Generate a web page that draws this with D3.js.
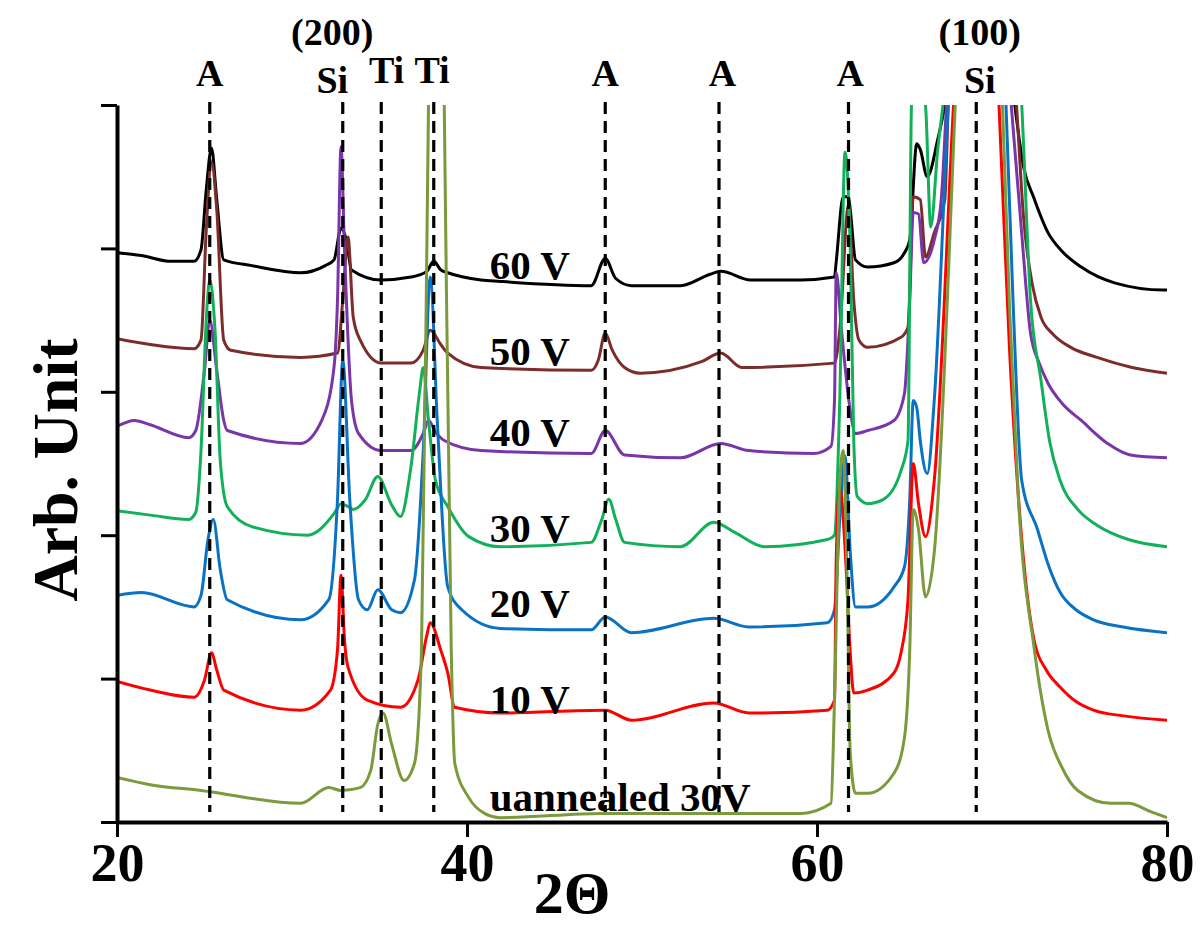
<!DOCTYPE html>
<html>
<head>
<meta charset="utf-8">
<script src="https://cdn.jsdelivr.net/npm/d3@7"></script>
<style>
  body { margin: 0; background: #fff; }
  text { font-family: "Liberation Serif", "Times New Roman", serif; font-weight: bold; fill: #000; }
</style>
</head>
<body>
<svg id="chart" width="1200" height="931"></svg>
<script>
// XRD patterns, [2theta, intensity (arb., offset per sample)]
const s60 = [[20.0,3.97],[21.4,3.95],[23.1,3.91],[24.4,3.91],[24.8,3.99],[25.1,4.41],[25.4,4.70],[25.7,4.34],[26.1,3.92],[27.7,3.88],[30.5,3.83],[31.9,3.88],[32.4,3.92],[32.8,4.14],[33.1,4.06],[33.4,3.85],[35.1,3.78],[36.8,3.80],[37.7,3.84],[38.1,3.91],[38.5,3.85],[38.9,3.83],[40.8,3.78],[41.9,3.77],[47.1,3.74],[47.9,3.93],[48.5,3.79],[49.4,3.74],[52.2,3.74],[53.9,3.82],[54.5,3.84],[56.2,3.78],[59.1,3.78],[61.0,3.80],[61.1,3.91],[61.5,4.36],[61.8,4.36],[61.9,4.27],[62.2,3.92],[62.9,3.87],[64.4,3.90],[65.0,3.97],[65.3,4.06],[65.7,4.73],[65.9,4.69],[66.3,4.50],[66.9,4.76],[67.3,5.00],[69.2,8.0],[71.3,5.00],[71.8,4.57],[72.4,4.35],[73.2,4.11],[74.0,3.98],[75.1,3.87],[77.0,3.76],[79.8,3.71],[80,3.71]];
const s50 = [[20.0,3.37],[21.9,3.33],[24.4,3.30],[24.8,3.36],[25.1,4.13],[25.4,4.60],[25.7,4.27],[26.1,3.36],[26.5,3.29],[30.5,3.24],[32.6,3.27],[32.9,3.64],[33.2,4.08],[33.5,3.52],[33.9,3.36],[35.1,3.20],[36.8,3.20],[37.5,3.29],[37.9,3.43],[38.5,3.33],[38.9,3.27],[40.8,3.17],[47.1,3.15],[47.5,3.22],[47.9,3.41],[48.3,3.29],[49.0,3.17],[49.9,3.13],[53.4,3.21],[54.5,3.27],[55.7,3.17],[61.0,3.20],[61.3,3.43],[61.8,4.30],[62.1,3.64],[62.4,3.36],[62.9,3.31],[64.8,3.38],[65.2,3.45],[65.5,4.36],[65.9,4.34],[66.2,3.94],[66.7,4.11],[67.3,4.34],[67.5,5.00],[69.2,8.0],[71.4,5.00],[71.8,4.22],[72.3,3.75],[72.8,3.52],[73.5,3.40],[74.5,3.31],[76.0,3.24],[78.0,3.17],[80,3.13]];
const s40 = [[20.0,2.76],[21.0,2.80],[21.9,2.77],[24.1,2.68],[24.5,2.73],[25.0,3.15],[25.3,3.50],[25.7,3.15],[26.1,2.80],[26.3,2.73],[30.5,2.64],[31.7,2.80],[32.4,3.17],[32.6,3.64],[32.8,4.71],[33.0,3.99],[33.4,2.94],[33.8,2.71],[35.1,2.59],[36.8,2.59],[37.5,2.71],[37.8,2.80],[38.2,2.72],[38.7,2.66],[40.8,2.59],[47.1,2.57],[47.9,2.73],[49.0,2.56],[52.2,2.54],[54.5,2.64],[56.1,2.59],[59.8,2.57],[60.8,2.62],[61.0,2.94],[61.1,3.83],[61.4,3.43],[61.9,2.87],[62.2,2.71],[62.9,2.73],[64.4,2.80],[65.0,2.99],[65.3,3.64],[65.5,4.25],[65.8,4.24],[66.1,3.90],[66.7,4.06],[67.1,4.34],[67.4,5.00],[69.2,8.0],[71.1,5.00],[71.7,4.10],[72.2,3.41],[72.7,3.20],[73.2,3.06],[74.0,2.92],[75.1,2.80],[76.6,2.64],[77.9,2.56],[80,2.54]];
const s30 = [[20.0,2.17],[21.9,2.14],[24.1,2.11],[24.5,2.16],[24.8,2.59],[25.1,3.50],[25.3,3.78],[25.6,3.43],[25.9,2.52],[26.3,2.20],[27.7,2.06],[30.9,2.00],[32.4,2.15],[32.8,2.22],[33.2,2.20],[33.5,2.18],[34.2,2.25],[34.9,2.41],[35.7,2.21],[36.2,2.13],[36.8,2.48],[37.3,3.01],[37.5,3.17],[37.8,2.80],[38.2,2.38],[38.9,2.20],[40.1,1.99],[41.9,1.92],[47.1,1.95],[47.7,2.11],[48.1,2.25],[48.5,2.11],[49.0,1.95],[52.2,1.92],[54.1,2.09],[55.3,2.02],[57.0,1.92],[60.6,1.97],[61.0,2.00],[61.3,2.94],[61.6,4.67],[61.9,3.99],[62.1,2.66],[62.3,2.27],[62.9,2.22],[63.8,2.25],[64.8,2.45],[65.2,2.66],[65.4,5.00],[65.7,5.30],[66.2,5.00],[66.5,4.15],[66.9,4.69],[67.2,5.00],[69.2,8.0],[71.7,5.00],[72.2,3.64],[72.8,3.08],[73.3,2.65],[73.9,2.38],[74.9,2.18],[76.0,2.07],[77.8,1.97],[80,1.92]];
const s20 = [[20.0,1.58],[21.4,1.60],[24.4,1.50],[24.8,1.58],[25.2,1.97],[25.5,2.11],[25.9,1.76],[26.3,1.55],[30.5,1.41],[32.1,1.55],[32.6,2.25],[32.9,3.22],[33.3,2.25],[33.8,1.55],[34.3,1.48],[34.9,1.62],[35.7,1.48],[36.2,1.46],[37.0,1.69],[37.5,2.59],[37.9,3.80],[38.3,2.80],[38.9,1.64],[39.7,1.48],[41.9,1.35],[47.1,1.34],[47.9,1.43],[49.4,1.32],[54.1,1.42],[56.1,1.36],[60.6,1.39],[61.0,1.48],[61.3,2.11],[61.6,2.55],[61.9,1.88],[62.2,1.50],[62.9,1.50],[64.4,1.64],[65.0,1.78],[65.3,2.25],[65.5,2.94],[65.7,2.89],[65.9,2.66],[66.3,2.43],[66.7,2.94],[67.5,5.00],[69.2,8.0],[70.8,5.00],[71.2,3.64],[71.7,2.38],[72.6,2.04],[73.2,1.80],[73.9,1.60],[74.8,1.48],[75.8,1.41],[77.5,1.36],[80,1.32]];
const s10 = [[20.0,0.98],[21.9,0.92],[24.4,0.87],[25.0,0.99],[25.4,1.18],[25.7,1.06],[26.1,0.92],[30.5,0.78],[32.2,0.92],[32.6,1.20],[32.8,1.72],[33.0,1.27],[33.2,1.08],[34.3,0.85],[36.2,0.80],[37.2,0.99],[37.7,1.30],[37.9,1.39],[38.5,1.20],[38.9,1.04],[39.3,0.80],[41.9,0.76],[47.9,0.78],[49.4,0.71],[54.1,0.83],[56.1,0.76],[60.6,0.78],[61.0,0.85],[61.1,1.83],[61.3,2.34],[61.6,1.92],[61.9,1.18],[62.1,0.90],[62.9,0.92],[64.4,1.04],[64.8,1.18],[65.2,1.55],[65.5,2.50],[65.8,2.22],[66.2,1.99],[66.7,2.38],[67.8,5.00],[69.2,8.0],[70.4,5.00],[71.0,3.30],[71.7,1.97],[72.4,1.27],[73.1,1.06],[73.9,0.94],[74.8,0.84],[75.8,0.78],[77.5,0.74],[80,0.71]];
const sUn = [[20.0,0.31],[21.9,0.26],[24.8,0.22],[30.5,0.13],[32.1,0.24],[32.8,0.22],[33.9,0.24],[34.5,0.36],[34.9,0.68],[35.2,0.76],[35.7,0.54],[36.4,0.29],[37.0,0.41],[37.4,1.20],[37.8,5.00],[38.3,9.0],[38.7,5.00],[39.1,1.20],[39.3,0.41],[40.1,0.17],[41.0,0.06],[41.9,0.03],[47.7,0.06],[59.1,0.06],[60.8,0.13],[61.0,0.85],[61.3,2.38],[61.5,2.59],[61.7,1.83],[61.9,0.48],[62.2,0.20],[62.9,0.20],[64.4,0.34],[65.0,0.59],[65.3,1.20],[65.5,2.18],[65.8,2.04],[66.2,1.57],[66.7,1.88],[67.9,5.00],[69.2,9.0],[70.6,5.00],[71.0,3.60],[71.5,2.27],[72.4,1.22],[73.2,0.64],[74.0,0.38],[74.9,0.22],[76.8,0.13],[77.8,0.13],[79.1,0.07],[80,0.03]];

const allSeries = [s60, s50, s40, s30, s20, s10, sUn];
const seriesNames = ["60 V", "50 V", "40 V", "30 V", "20 V", "10 V", "uannealed 30V"];
const seriesColors = ["#000000", "#7b2d2b", "#7a35a8", "#13b05a", "#0a72c4", "#ff0000", "#7a9a3c"];
const labelY = [3.79, 3.19, 2.62, 1.95, 1.43, 0.76, 0.08];   // where each sample name sits

// reflections: dashed line positions and their labels
const peakPos = [25.3, 32.9, 35.1, 38.1, 47.9, 54.4, 61.8, 69.1];
const peakText = ["A", "Si", "Ti", "Ti", "A", "A", "A", "Si"];
const peakTextAt = [25.3, 32.3, 35.4, 38.0, 47.9, 54.6, 61.9, 69.3];
const hklText = ["(200)", "(100)"];
const hklAt = [32.3, 69.3];

const xTicks = [20, 40, 60, 80];
const yTicks = [0, 1, 2, 3, 4, 5];

const svg = d3.select("#chart");
const m = {left: 117, right: 1167, top: 105, bottom: 822};

const x = d3.scaleLinear().domain([20, 80]).range([m.left, m.right]);
const y = d3.scaleLinear().domain([0, 5]).range([m.bottom, m.top]);

svg.append("defs").append("clipPath").attr("id", "plot")
    .append("rect")
    .attr("x", m.left).attr("y", m.top)
    .attr("width", m.right - m.left).attr("height", m.bottom - m.top);

const line = d3.line()
    .x(d => x(d[0]))
    .y(d => y(d[1]))
    .curve(d3.curveMonotoneX);

svg.append("g")
    .attr("clip-path", "url(#plot)")
    .selectAll("path")
    .data(allSeries)
    .enter()
    .append("path")
        .attr("d", line)
        .attr("fill", "none")
        .attr("stroke", (d, i) => seriesColors[i])
        .attr("stroke-width", 3)
        .attr("stroke-linejoin", "round");

// dashed reference lines
svg.append("g")
    .selectAll("line")
    .data(peakPos)
    .enter()
    .append("line")
        .attr("x1", d => x(d)).attr("x2", d => x(d))
        .attr("y1", m.top - 3).attr("y2", m.bottom - 10)
        .attr("stroke", "#000")
        .attr("stroke-width", 3.2)
        .attr("stroke-dasharray", "12,7");

// axes
const yAxis = svg.append("g")
    .attr("transform", `translate(${m.left},0)`)
    .call(d3.axisLeft(y).tickValues(yTicks).tickSize(16).tickSizeOuter(0).tickFormat(""));
yAxis.select(".domain").attr("stroke-width", 4);
yAxis.selectAll(".tick line").attr("stroke-width", 3);

const xAxis = svg.append("g")
    .attr("transform", `translate(0,${m.bottom})`)
    .call(d3.axisBottom(x).tickValues(xTicks).tickSize(15).tickSizeOuter(0).tickPadding(6));
xAxis.select(".domain").attr("stroke-width", 4);
xAxis.selectAll(".tick line").attr("stroke-width", 3);
xAxis.selectAll("text").attr("font-size", 54).attr("fill", "#000");

svg.append("text")
    .attr("x", 572).attr("y", 913)
    .attr("text-anchor", "middle")
    .attr("font-size", 60)
    .text("2Θ");

svg.append("text")
    .attr("transform", "translate(77,470) rotate(-90)")
    .attr("text-anchor", "middle")
    .attr("font-size", 64)
    .text("Arb. Unit");

// sample names
svg.selectAll(".sname")
    .data(seriesNames)
    .enter()
    .append("text")
        .attr("class", "sname")
        .attr("x", x(41.3))
        .attr("y", (d, i) => y(labelY[i]))
        .attr("font-size", 41)
        .text(d => d);

// phase labels over the dashed lines
svg.selectAll(".plab")
    .data(peakText)
    .enter()
    .append("text")
        .attr("class", "plab")
        .attr("x", (d, i) => x(peakTextAt[i]))
        .attr("y", d => d == "A" ? 86 : (d == "Si" ? 93 : 83))
        .attr("text-anchor", "middle")
        .attr("font-size", 38)
        .text(d => d);

svg.selectAll(".hkl")
    .data(hklText)
    .enter()
    .append("text")
        .attr("class", "hkl")
        .attr("x", (d, i) => x(hklAt[i]))
        .attr("y", 45)
        .attr("text-anchor", "middle")
        .attr("font-size", 38)
        .text(d => d);
</script>
</body>
</html>
